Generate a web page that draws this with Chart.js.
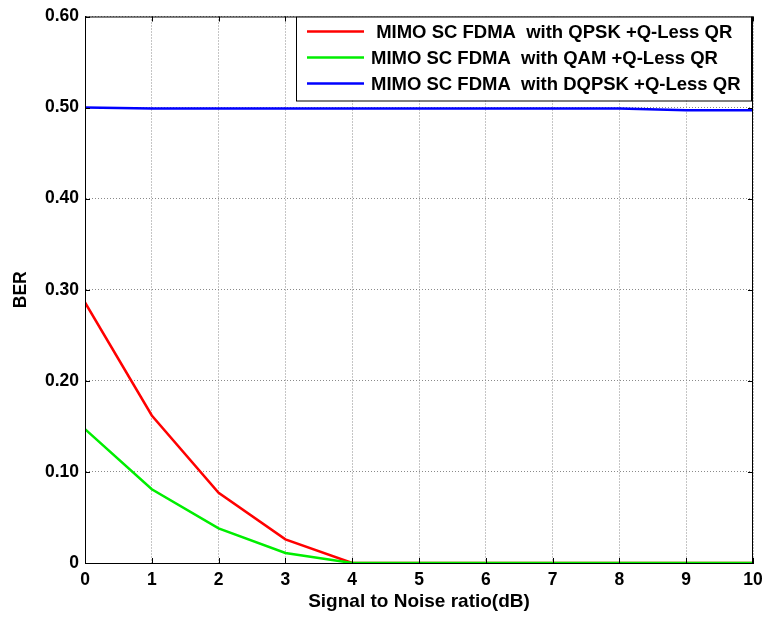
<!DOCTYPE html>
<html>
<head>
<meta charset="utf-8">
<script src="https://cdn.jsdelivr.net/npm/chart.js@4"></script>
<style>
  html, body { margin: 0; padding: 0; background: #fff; }
  #wrap { width: 765px; height: 617px; }
</style>
</head>
<body>
<div id="wrap"><canvas id="ber"></canvas></div>
<script>
// valores
var snr = [0, 1, 2, 3, 4, 5, 6, 7, 8, 9, 10]
var berQpsk = [0.286, 0.162, 0.077, 0.026, 0, 0, 0, 0, 0, 0, 0]
var berQam = [0.147, 0.081, 0.038, 0.011, 0, 0, 0, 0, 0, 0, 0]
var berDqpsk = [0.500, 0.499, 0.499, 0.499, 0.499, 0.499, 0.499, 0.499, 0.499, 0.497, 0.497]
var leyendas = [' MIMO SC FDMA  with QPSK +Q-Less QR', 'MIMO SC FDMA  with QAM +Q-Less QR', 'MIMO SC FDMA  with DQPSK +Q-Less QR']
var colores = ['#ff0000', '#00ee00', '#0000ff']
var yTicks = [0, 0.1, 0.2, 0.3, 0.4, 0.5, 0.6]

function puntos(ys) {
  return snr.map(function (x, i) { return { x: x, y: ys[i] } })
}

// marco negro con marcas hacia dentro (estilo matlab)
var marco = {
  id: 'marco',
  afterDatasetsDraw: function (chart) {
    var ctx = chart.ctx, a = chart.chartArea
    var sx = chart.scales.x, sy = chart.scales.y
    ctx.save()
    ctx.strokeStyle = '#000'
    ctx.lineWidth = 1
    ctx.strokeRect(a.left + 0.5, a.top + 0.5, a.right - a.left - 1, a.bottom - a.top)
    ctx.beginPath()
    snr.forEach(function (v) {
      var px = Math.round(sx.getPixelForValue(v)) + 0.5
      ctx.moveTo(px, a.bottom); ctx.lineTo(px, a.bottom - 5)
      ctx.moveTo(px, a.top); ctx.lineTo(px, a.top + 5)
    })
    yTicks.forEach(function (v) {
      var py = Math.round(sy.getPixelForValue(v)) + 0.5
      ctx.moveTo(a.left, py); ctx.lineTo(a.left + 5, py)
      ctx.moveTo(a.right, py); ctx.lineTo(a.right - 5, py)
    })
    ctx.stroke()
    ctx.restore()
  },
  afterDraw: function (chart) {
    var ctx = chart.ctx, a = chart.chartArea
    var bx = a.right - 457, by = a.top, bw = 455, bh = 84
    ctx.save()
    ctx.fillStyle = '#fff'
    ctx.fillRect(bx, by, bw, bh)
    ctx.strokeStyle = '#000'
    ctx.lineWidth = 1
    ctx.strokeRect(bx + 0.5, by + 0.5, bw, bh)
    ctx.font = 'bold 18.5px "Liberation Sans", Arial, sans-serif'
    ctx.textBaseline = 'middle'
    ctx.fillStyle = '#000'
    leyendas.forEach(function (txt, i) {
      var y = by + 15 + i * 26
      ctx.strokeStyle = colores[i]
      ctx.lineWidth = 2.5
      ctx.beginPath()
      ctx.moveTo(bx + 11, y); ctx.lineTo(bx + 68, y)
      ctx.stroke()
      ctx.fillText(txt, bx + 75, y + 1)
    })
    ctx.restore()
  }
}

var fuenteTicks = { family: '"Liberation Sans", Arial, sans-serif', size: 17.5, weight: 'bold' }

new Chart(document.getElementById('ber'), {
  type: 'line',
  data: {
    datasets: [
      { label: leyendas[0], data: puntos(berQpsk), borderColor: colores[0], order: 1 },
      { label: leyendas[1], data: puntos(berQam), borderColor: colores[1], order: 0 },
      { label: leyendas[2], data: puntos(berDqpsk), borderColor: colores[2], order: 2 }
    ]
  },
  options: {
    responsive: true,
    maintainAspectRatio: false,
    animation: false,
    layout: { padding: { left: 0, top: 14, right: 12, bottom: 0 } },
    elements: {
      line: { borderWidth: 2.5, tension: 0, fill: false },
      point: { radius: 0 }
    },
    plugins: {
      legend: { display: false },
      tooltip: { enabled: false }
    },
    scales: {
      x: {
        type: 'linear',
        min: 0,
        max: 10,
        afterFit: function (s) { s.height = 54; s.paddingRight = 0; s.paddingLeft = 0 },
        ticks: { stepSize: 1, padding: 7, color: '#000', font: fuenteTicks },
        grid: { color: '#8a8a8a', drawTicks: false },
        border: { display: true, color: '#000', dash: [1, 2] },
        title: {
          display: true,
          text: 'Signal to Noise ratio(dB)',
          color: '#000',
          font: { family: '"Liberation Sans", Arial, sans-serif', size: 19, weight: 'bold' },
          padding: { top: 0, bottom: 4 }
        }
      },
      y: {
        min: 0,
        max: 0.6,
        afterFit: function (s) { s.width = 85 },
        afterBuildTicks: function (s) { s.ticks = yTicks.map(function (v) { return { value: v } }) },
        ticks: {
          padding: 6,
          color: '#000',
          font: fuenteTicks,
          callback: function (v) { return v === 0 ? '0' : v.toFixed(2) }
        },
        grid: { color: '#8a8a8a', drawTicks: false },
        border: { display: true, color: '#000', dash: [1, 2] },
        title: {
          display: true,
          text: 'BER',
          color: '#000',
          font: { family: '"Liberation Sans", Arial, sans-serif', size: 17.5, weight: 'bold' },
          padding: { top: 11, bottom: 0 }
        }
      }
    }
  },
  plugins: [marco]
})
</script>
</body>
</html>
